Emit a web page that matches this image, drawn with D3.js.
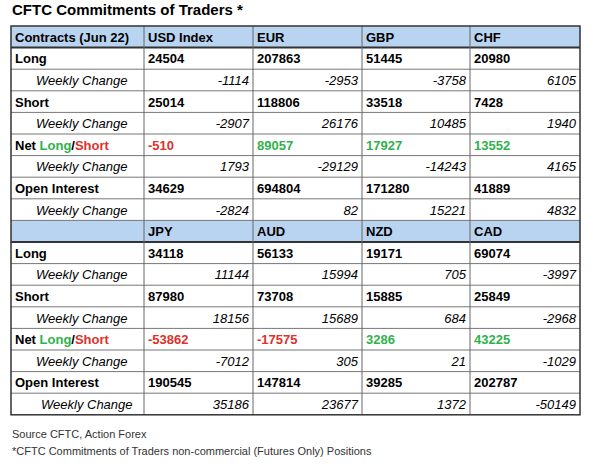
<!DOCTYPE html><html><head><meta charset="utf-8"><script src="https://cdn.jsdelivr.net/npm/d3@7"></script>
<style>body{margin:0;background:#fff}</style></head><body><svg id="c" width="600" height="470"></svg>
<script>
const groups1=["USD Index","EUR","GBP","CHF"];
const groups2=["JPY","AUD","NZD","CAD"];
const long1=[24504,207863,51445,20980], longWC1=[-1114,-2953,-3758,6105];
const short1=[25014,118806,33518,7428], shortWC1=[-2907,26176,10485,1940];
const net1=[-510,89057,17927,13552], netWC1=[1793,-29129,-14243,4165];
const oi1=[34629,694804,171280,41889], oiWC1=[-2824,82,15221,4832];
const long2=[34118,56133,19171,69074], longWC2=[11144,15994,705,-3997];
const short2=[87980,73708,15885,25849], shortWC2=[18156,15689,684,-2968];
const net2=[-53862,-17575,3286,43225], netWC2=[-7012,305,21,-1029];
const oi2=[190545,147814,39285,202787], oiWC2=[35186,23677,1372,-50149];

(function(){
const svg=d3.select("#c"),F="Liberation Sans, Arial, sans-serif";
const colX=[11,144,253,362,470,580];
const tableTop=26,rh=21.6;
const y=d3.scaleLinear().domain([0,18]).range([tableTop,tableTop+18*rh]);
const RED="#e0312a",GREEN="#2fb24c",BLUE="#b9d4f0";
svg.append("text").attr("x",12).attr("y",15).attr("font-family",F).attr("font-weight","bold").attr("font-size",15).text("CFTC Commitments of Traders *");
function block(start,head,hdrLabel,rows){
  svg.append("rect").attr("x",colX[0]).attr("y",y(start)).attr("width",colX[5]-colX[0]).attr("height",rh).attr("fill",BLUE);
  const hy=y(start)+rh/2+5;
  if(hdrLabel) svg.append("text").attr("x",colX[0]+4).attr("y",hy).attr("font-family",F).attr("font-weight","bold").attr("font-size",13).text(hdrLabel);
  head.forEach((h,i)=>svg.append("text").attr("x",colX[i+1]+4).attr("y",hy).attr("font-family",F).attr("font-weight","bold").attr("font-size",13).text(h));
  rows.forEach((r,k)=>{
    const ri=start+1+k, ty=y(ri)+rh/2+5;
    const wc=r.wc;
    const lab=svg.append("text").attr("x",colX[0]+(wc?(r.indent||25):4)).attr("y",ty).attr("font-family",F).attr("font-size",13)
      .attr("font-weight",wc?"normal":"bold").attr("font-style",wc?"italic":"normal");
    if(r.net){lab.append("tspan").text("Net ");lab.append("tspan").attr("fill",GREEN).text("Long");lab.append("tspan").text("/");lab.append("tspan").attr("fill",RED).text("Short");}
    else lab.text(r.label);
    r.vals.forEach((v,i)=>{
      const t=svg.append("text").attr("font-family",F).attr("font-size",13).attr("y",ty).text(v);
      if(wc) t.attr("x",colX[i+2]-4).attr("text-anchor","end").attr("font-style","italic");
      else t.attr("x",colX[i+1]+4).attr("font-weight","bold");
      if(r.net) t.attr("fill",v<0?RED:GREEN);
    });
  });
}
block(0,groups1,"Contracts (Jun 22)",[
 {label:"Long",vals:long1},{label:"Weekly Change",wc:1,vals:longWC1},
 {label:"Short",vals:short1},{label:"Weekly Change",wc:1,vals:shortWC1},
 {net:1,vals:net1},{label:"Weekly Change",wc:1,vals:netWC1},
 {label:"Open Interest",vals:oi1},{label:"Weekly Change",wc:1,vals:oiWC1}]);
block(9,groups2,"",[
 {label:"Long",vals:long2},{label:"Weekly Change",wc:1,vals:longWC2},
 {label:"Short",vals:short2},{label:"Weekly Change",wc:1,vals:shortWC2},
 {net:1,vals:net2},{label:"Weekly Change",wc:1,vals:netWC2},
 {label:"Open Interest",vals:oi2},{label:"Weekly Change",wc:1,indent:30,vals:oiWC2}]);
const g=svg.append("g").attr("stroke","#555").attr("stroke-width",1);
for(let i=1;i<18;i++) g.append("line").attr("x1",colX[0]).attr("x2",colX[5]).attr("y1",y(i)).attr("y2",y(i)).attr("stroke-width",(i==1||i==10)?2:1).attr("stroke",(i==1||i==10)?"#333":"#777");
colX.forEach((x,i)=>{if(i>0&&i<5)g.append("line").attr("x1",x).attr("x2",x).attr("y1",y(0)).attr("y2",y(18)).attr("stroke","#666");});
svg.append("rect").attr("x",colX[0]).attr("y",y(0)).attr("width",colX[5]-colX[0]).attr("height",y(18)-y(0)).attr("fill","none").attr("stroke","#333").attr("stroke-width",1.5);
svg.append("text").attr("x",12).attr("y",438).attr("font-family",F).attr("font-size",11).attr("fill","#333").text("Source CFTC, Action Forex");
svg.append("text").attr("x",12).attr("y",455).attr("font-family",F).attr("font-size",11).attr("fill","#333").text("*CFTC Commitments of Traders non-commercial (Futures Only) Positions");
})();
</script></body></html>
